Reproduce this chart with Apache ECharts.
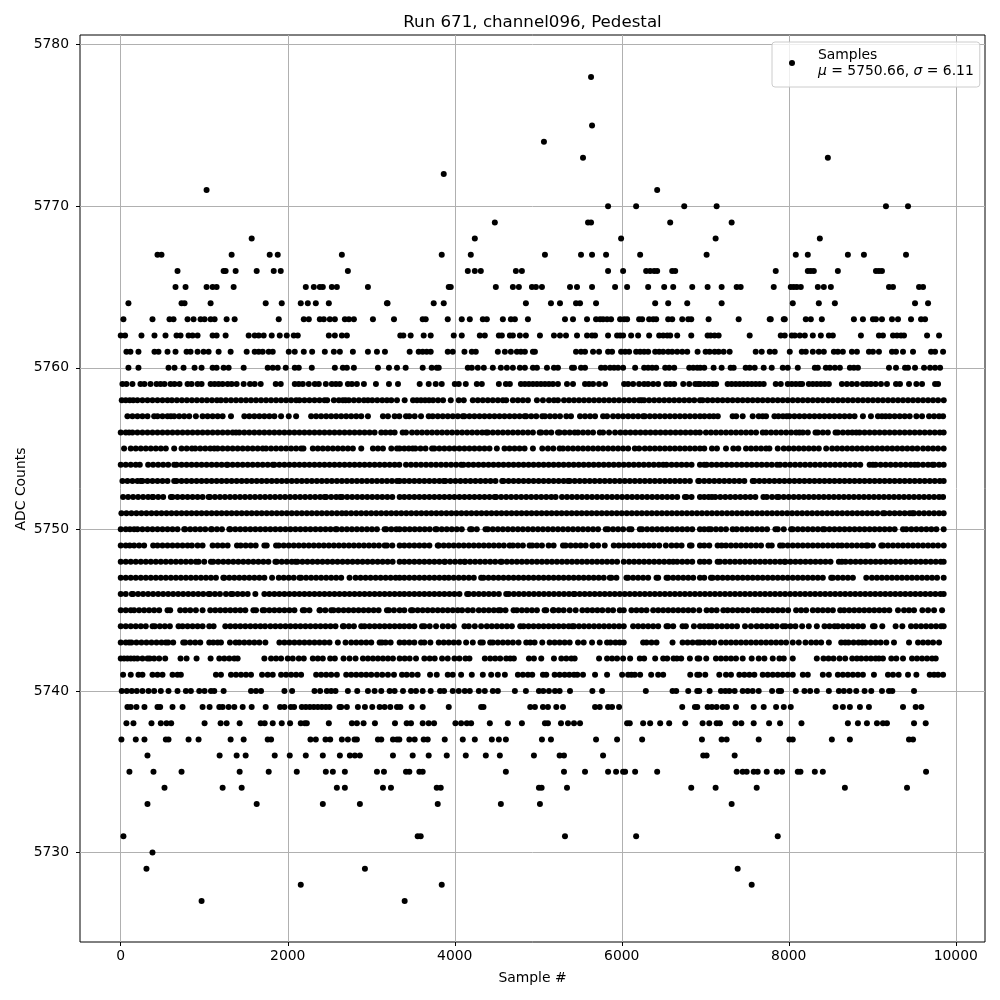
<!DOCTYPE html>
<html><head><meta charset="utf-8">
<script src="https://cdn.jsdelivr.net/npm/echarts@6/dist/echarts.min.js"></script>
<style>html,body{margin:0;padding:0;background:#fff}#c{width:1000px;height:1000px}</style></head>
<body><div id="c"></div>
<script>
const titleText = "Run 671, channel096, Pedestal";
const xName = "Sample #";
const yName = "ADC Counts";
const xTicks = [0,2000,4000,6000,8000,10000];
const yTicks = [5730,5740,5750,5760,5770,5780];
const s5778=[5632];
const s5775=[5644];
const s5774=[5068];
const s5773=[5536,8468];
const s5772=[3868];
const s5771=[1028,6424];
const s5770=[5836,6172,6748,7136,9164,9428];
const s5769=[4480,5596,5632,6580,7316];
const s5768=[1568,4240,5992,7124,8372];
const s5767=[440,488,1328,1784,1880,2648,3844,4192,5080,5512,5644,5812,6220,7016,8084,8228,8708,8900,9404];
const s5766=[680,1232,1256,1376,1628,1832,1916,2720,4156,4240,4312,4732,4804,5836,6016,6292,6340,6388,6424,6604,6640,7844,8228,8264,8300,8588,9044,9080,9116];
const s5765=[656,776,1028,1100,1148,1352,2216,2312,2384,2420,2528,2588,2960,3928,3952,4492,4696,4768,4924,4972,5044,5380,5464,5644,5920,6064,6316,6508,6616,6844,7028,7196,7376,7424,7820,8024,8060,8096,8144,8348,8420,8504,9200,9248,9560,9608];
const s5764=[92,728,764,1076,1736,1928,2156,2240,2336,2492,3188,3195,3748,3868,4852,5152,5260,5452,5500,5692,6400,6556,6784,7196,8048,8360,8552,9512,9668];
const s5763=[32,380,584,632,800,872,956,1004,1076,1124,1268,1364,1892,2192,2252,2384,2432,2504,2564,2684,2732,2792,3020,3272,3616,3652,3916,4084,4180,4336,4384,4576,4672,4720,4876,5320,5416,5584,5692,5740,5776,5824,5872,5980,6028,6064,6208,6244,6328,6376,6412,6556,6604,6724,6796,6832,7040,7400,7772,7784,7940,7952,8204,8264,8396,8780,8888,9008,9044,9116,9236,9308,9464,9584,9632];
const s5762=[0,52,248,404,536,668,716,812,860,920,1100,1148,1256,1532,1604,1652,1712,1808,1904,1988,2072,2120,2492,2564,2648,2708,3348,3384,3472,3628,3712,3988,4084,4300,4360,4528,4564,4660,4696,4780,4852,5020,5188,5260,5332,5464,5584,5644,5680,5836,5944,5980,6016,6112,6196,6328,6448,6496,6544,6580,6664,6832,7028,7064,7112,7160,7532,7904,7952,8036,8072,8132,8192,8288,8384,8480,8528,8864,9080,9128,9248,9296,9344,9380,9656,9800];
const s5761=[68,116,212,404,452,560,656,788,836,920,992,1052,1172,1316,1508,1604,1652,1700,1772,1820,2012,2084,2192,2292,2444,2552,2624,2780,2960,3068,3164,3460,3568,3616,3664,3712,3916,3976,4116,4204,4252,4516,4600,4672,4744,4792,4840,4936,4960,5452,5512,5560,5656,5728,5836,5884,5992,6040,6088,6172,6220,6268,6316,6400,6448,6496,6556,6604,6664,6724,6784,6908,7004,7052,7112,7160,7220,7292,7604,7676,7772,7832,8012,8156,8204,8288,8360,8420,8540,8588,8648,8756,8816,8960,9008,9080,9236,9284,9368,9488,9704,9752,9848];
const s5760=[92,212,572,644,752,884,968,1100,1148,1232,1292,1472,1760,1820,1880,1976,2084,2132,2288,2564,2660,2708,2792,3080,3212,3308,3412,3616,3724,3784,3808,4156,4204,4276,4348,4456,4552,4624,4696,4780,4840,4936,4984,5104,5188,5236,5404,5428,5512,5560,5752,5800,5860,5908,5956,6016,6160,6268,6316,6364,6412,6520,6568,6628,6808,6856,6904,6940,6988,7100,7196,7304,7340,7484,7532,7592,7700,7796,7928,7988,8108,8312,8348,8444,8492,8552,8612,8732,8780,8828,9200,9284,9392,9428,9512,9620,9692,9752,9812];
const s5759=[20,68,140,236,284,356,428,476,524,596,644,704,800,848,920,968,1076,1124,1172,1220,1280,1328,1388,1472,1548,1604,1676,1856,1916,2084,2132,2180,2252,2324,2372,2456,2528,2576,2624,2720,2768,2828,2912,3056,3212,3320,3580,3688,3772,3844,4000,4048,4132,4264,4324,4528,4612,4660,4792,4840,4888,4936,4984,5032,5080,5128,5176,5236,5344,5416,5560,5608,5656,5728,5800,6028,6076,6136,6208,6268,6316,6376,6436,6532,6580,6628,6736,6808,6880,6916,6940,6990,7040,7090,7130,7268,7316,7364,7412,7460,7508,7556,7604,7652,7700,7844,7904,7988,8036,8084,8132,8160,8240,8288,8336,8384,8432,8480,8636,8696,8756,8816,8888,8936,8984,9040,9104,9176,9284,9332,9440,9528,9596,9752,9788];
const s5758=[12,60,108,150,200,260,320,380,440,500,560,612,672,732,792,852,912,972,1032,1092,1152,1200,1260,1320,1380,1440,1500,1560,1620,1680,1740,1800,1860,1920,1980,2040,2100,2140,2200,2260,2320,2380,2440,2472,2552,2612,2660,2692,2732,2792,2852,2912,2960,3012,3072,3132,3188,3240,3308,3400,3500,3548,3596,3644,3692,3740,3800,3860,3952,4048,4108,4216,4276,4336,4396,4456,4516,4576,4616,4696,4756,4816,4876,4984,5056,5128,5188,5236,5308,5368,5428,5488,5548,5608,5668,5728,5788,5848,5908,5968,6028,6088,6148,6208,6236,6268,6328,6388,6448,6508,6568,6628,6688,6748,6808,6868,6936,6968,7028,7088,7148,7208,7268,7328,7388,7448,7508,7568,7628,7688,7748,7808,7868,7928,7988,8048,8108,8168,8228,8288,8348,8408,8468,8528,8588,8648,8708,8768,8828,8888,8948,9008,9068,9128,9188,9248,9308,9368,9428,9488,9548,9608,9668,9728,9788,9856];
const s5757=[80,140,200,260,320,400,440,500,560,600,640,700,760,820,900,980,1040,1100,1160,1220,1320,1480,1540,1600,1660,1720,1780,1840,1920,2012,2100,2280,2340,2400,2460,2520,2580,2640,2700,2760,2820,2880,2960,3140,3200,3280,3336,3416,3456,3520,3596,3688,3736,3796,3856,3916,3976,4036,4096,4116,4176,4236,4296,4356,4416,4476,4536,4596,4656,4716,4776,4836,4856,4916,4976,5048,5080,5140,5200,5260,5336,5392,5500,5560,5620,5680,5776,5824,5896,5956,6016,6076,6136,6196,6256,6276,6336,6396,6456,6516,6576,6636,6696,6756,6816,6876,6936,6990,7050,7100,7150,7328,7370,7448,7568,7640,7688,7728,7828,7876,7930,7976,8008,8068,8128,8188,8248,8308,8368,8428,8488,8548,8608,8668,8728,8788,8888,8984,9068,9116,9160,9208,9268,9328,9388,9448,9528,9596,9680,9740,9800,9848];
const s5756=[0,60,100,140,200,260,320,380,440,500,560,620,680,740,800,860,920,980,1040,1100,1160,1220,1280,1340,1380,1420,1480,1540,1600,1660,1720,1780,1840,1900,1960,2020,2080,2140,2200,2260,2320,2380,2440,2500,2560,2620,2680,2740,2800,2860,2920,2980,3040,3120,3172,3230,3280,3376,3416,3488,3548,3608,3668,3728,3788,3848,3908,3968,4028,4088,4148,4208,4268,4328,4376,4396,4456,4516,4576,4636,4696,4756,4816,4876,4936,5016,5036,5096,5156,5236,5256,5316,5376,5436,5476,5536,5596,5656,5736,5776,5848,5920,5984,6044,6104,6164,6224,6284,6344,6404,6464,6524,6584,6644,6704,6764,6824,6884,6936,7008,7068,7128,7188,7248,7308,7368,7428,7488,7548,7608,7688,7728,7788,7848,7908,7968,8028,8088,8128,8168,8228,8320,8348,8408,8468,8560,8588,8648,8708,8760,8808,8848,8908,8968,9028,9088,9148,9208,9268,9328,9388,9448,9508,9568,9628,9688,9748,9808,9855];
const s5755=[40,120,180,240,300,360,420,480,540,640,728,790,852,892,952,1012,1072,1120,1160,1220,1280,1340,1400,1460,1520,1580,1640,1700,1740,1800,1860,1920,1980,2040,2100,2160,2188,2300,2360,2420,2480,2540,2600,2660,2720,2780,2880,3020,3080,3140,3240,3308,3340,3396,3450,3496,3528,3590,3650,3728,3756,3816,3876,3936,3996,4056,4116,4176,4236,4296,4356,4416,4504,4596,4656,4716,4776,4836,4936,5048,5116,5180,5256,5296,5356,5416,5476,5536,5596,5656,5716,5776,5836,5896,5956,6016,6076,6156,6208,6276,6336,6396,6456,6516,6576,6636,6696,6756,6816,6876,6936,6988,7080,7140,7248,7336,7396,7488,7548,7608,7668,7728,7768,7868,7940,8000,8060,8120,8180,8240,8300,8360,8448,8520,8580,8640,8700,8760,8820,8880,8940,9000,9060,9120,9180,9240,9300,9360,9420,9480,9540,9608,9668,9728,9788,9855];
const s5754=[0,60,120,180,228,328,388,448,508,568,640,668,728,788,848,908,968,1028,1088,1148,1208,1268,1280,1340,1400,1460,1520,1580,1640,1700,1760,1820,1840,1900,1960,2020,2080,2140,2200,2260,2320,2380,2440,2500,2560,2620,2680,2740,2800,2860,2920,2980,3040,3100,3160,3220,3280,3336,3416,3476,3536,3596,3656,3716,3776,3836,3896,3956,4016,4076,4104,4164,4224,4284,4344,4404,4464,4524,4584,4644,4704,4764,4824,4884,4944,5004,5064,5124,5184,5244,5304,5364,5424,5484,5544,5604,5664,5724,5784,5844,5904,5964,6024,6084,6144,6204,6264,6324,6384,6444,6496,6536,6596,6656,6716,6776,6836,6936,6988,7016,7076,7136,7196,7256,7316,7376,7436,7496,7556,7616,7676,7736,7796,7860,7896,7956,8016,8076,8136,8196,8256,8316,8376,8436,8496,8556,8616,8676,8736,8796,8856,8968,9008,9040,9100,9160,9220,9280,9340,9400,9460,9508,9548,9608,9668,9720,9740,9800,9855];
const s5753=[20,80,140,200,240,260,320,380,440,500,560,640,668,728,788,848,908,968,1028,1088,1148,1208,1268,1328,1388,1448,1508,1568,1628,1688,1748,1808,1868,1928,1988,2048,2108,2168,2228,2288,2348,2408,2468,2528,2588,2648,2708,2768,2828,2888,2948,3008,3068,3128,3188,3248,3308,3340,3396,3456,3516,3576,3636,3696,3756,3816,3868,3888,3948,4008,4068,4128,4188,4248,4308,4368,4428,4488,4568,4584,4644,4704,4764,4824,4884,4944,5004,5064,5124,5184,5244,5304,5356,5376,5436,5496,5556,5616,5676,5736,5796,5856,5916,5976,6036,6096,6156,6216,6276,6336,6396,6456,6516,6576,6636,6696,6756,6816,6916,6928,6988,7048,7108,7168,7228,7288,7348,7408,7468,7568,7588,7648,7708,7768,7828,7888,7948,8008,8068,8128,8188,8248,8308,8368,8428,8488,8548,8608,8668,8728,8788,8848,8908,8968,9028,9088,9148,9208,9268,9328,9388,9448,9508,9568,9628,9688,9748,9808,9855];
const s5752=[28,88,148,208,268,328,380,388,448,508,600,620,680,740,800,860,920,980,1052,1068,1128,1188,1248,1308,1368,1428,1488,1548,1608,1668,1728,1788,1848,1908,1968,2028,2088,2148,2208,2268,2328,2388,2440,2460,2520,2580,2628,2652,2712,2772,2832,2892,2952,3012,3072,3132,3192,3252,3340,3396,3456,3516,3576,3636,3696,3756,3816,3876,3936,3996,4056,4116,4176,4236,4296,4356,4416,4476,4496,4556,4616,4676,4736,4796,4856,4916,4976,5036,5096,5156,5208,5284,5344,5404,5464,5524,5584,5644,5704,5764,5824,5884,5944,6004,6064,6124,6184,6244,6304,6364,6424,6484,6544,6604,6664,6756,6776,6836,6936,6988,7040,7080,7120,7180,7240,7300,7360,7420,7480,7540,7600,7696,7736,7800,7860,7880,7940,8000,8060,8120,8180,8240,8300,8360,8420,8480,8540,8600,8660,8720,8780,8840,8900,8960,9020,9080,9140,9200,9260,9320,9380,9440,9500,9560,9620,9680,9740,9800,9848];
const s5751=[8,68,128,188,248,308,368,428,488,548,608,668,728,788,848,908,968,1028,1088,1148,1208,1268,1328,1388,1448,1508,1568,1628,1688,1748,1808,1868,1928,1988,2048,2108,2168,2228,2288,2348,2408,2468,2528,2588,2648,2700,2760,2820,2880,2940,3000,3060,3120,3180,3240,3300,3360,3420,3480,3540,3600,3660,3720,3780,3840,3900,3960,4020,4080,4140,4200,4260,4320,4380,4440,4500,4560,4620,4680,4740,4800,4860,4920,4980,5040,5100,5160,5220,5280,5340,5400,5460,5520,5580,5640,5700,5760,5820,5880,5940,6000,6060,6120,6180,6240,6300,6360,6420,6480,6540,6600,6660,6720,6780,6840,6900,6960,7020,7080,7140,7200,7260,7320,7380,7440,7500,7560,7620,7680,7740,7800,7860,7920,7980,8040,8100,8160,8220,8280,8340,8400,8460,8520,8580,8640,8700,8760,8820,8880,8940,9000,9060,9128,9148,9208,9268,9328,9388,9448,9480,9500,9560,9620,9680,9740,9800,9855];
const s5750=[0,60,110,160,200,260,320,380,440,500,560,620,680,760,772,832,892,952,1012,1080,1092,1152,1212,1300,1312,1372,1432,1492,1552,1612,1672,1732,1792,1852,1912,1972,2032,2092,2152,2212,2272,2332,2392,2452,2512,2572,2588,2648,2708,2768,2828,2888,2948,3008,3068,3160,3180,3240,3300,3340,3400,3460,3520,3580,3640,3700,3768,3784,3844,3904,3964,4024,4084,4184,4204,4264,4368,4396,4456,4516,4576,4636,4696,4756,4816,4876,4936,4996,5056,5116,5176,5236,5296,5356,5416,5476,5536,5596,5656,5716,5808,5836,5896,5956,6016,6088,6116,6216,6244,6304,6364,6424,6484,6544,6604,6664,6724,6784,6844,6936,6988,7040,7068,7128,7188,7248,7328,7376,7440,7500,7560,7620,7680,7740,7840,7868,7940,8028,8048,8108,8168,8228,8288,8348,8408,8428,8488,8548,8608,8668,8728,8788,8848,8908,8968,9028,9088,9148,9208,9268,9368,9408,9468,9528,9588,9648,9708,9768,9855];
const s5749=[0,60,108,160,220,280,388,440,500,560,620,680,740,800,852,920,980,1100,1160,1220,1280,1392,1436,1496,1556,1616,1720,1748,1860,1892,1952,2012,2072,2132,2192,2252,2312,2372,2432,2492,2552,2612,2672,2732,2792,2852,2912,2972,3032,3092,3160,3188,3252,3340,3396,3456,3516,3576,3636,3696,3796,3808,3868,3928,3988,4048,4108,4168,4228,4288,4348,4408,4468,4528,4588,4656,4696,4756,4816,4896,4928,4984,5044,5124,5184,5296,5328,5388,5448,5508,5568,5648,5656,5716,5796,5904,5964,6024,6084,6144,6204,6264,6324,6384,6448,6528,6596,6656,6716,6816,6836,6936,6988,7048,7148,7196,7248,7308,7368,7428,7488,7548,7608,7668,7756,7796,7896,7928,7988,8048,8108,8168,8228,8288,8348,8408,8468,8528,8588,8636,8696,8756,8816,8876,8928,8948,9008,9108,9128,9188,9248,9308,9368,9428,9488,9548,9608,9668,9728,9788,9856];
const s5748=[0,60,120,180,240,300,360,420,480,540,600,660,720,780,840,900,932,1000,1080,1108,1168,1228,1288,1348,1408,1468,1528,1588,1648,1708,1768,1852,1868,1928,1988,2048,2092,2116,2176,2236,2296,2356,2416,2476,2536,2596,2656,2716,2776,2836,2896,2956,3016,3076,3136,3196,3256,3340,3396,3456,3516,3576,3636,3696,3756,3816,3876,3884,3944,4004,4064,4116,4124,4184,4244,4304,4364,4424,4484,4548,4564,4624,4684,4744,4804,4864,4924,4984,5044,5104,5164,5224,5284,5344,5404,5464,5524,5584,5644,5704,5764,5824,5884,5944,6024,6088,6148,6208,6268,6328,6388,6448,6508,6568,6616,6664,6724,6784,6844,6936,6988,7048,7148,7176,7236,7296,7356,7416,7476,7536,7596,7656,7716,7776,7836,7896,7948,7960,8020,8080,8140,8200,8260,8320,8380,8440,8500,8600,8636,8680,8740,8800,8860,8920,8980,9040,9100,9160,9220,9280,9340,9400,9460,9520,9580,9640,9700,9760,9820,9855];
const s5747=[0,60,120,180,240,300,360,420,480,540,600,660,720,780,840,900,960,1020,1080,1140,1228,1240,1300,1360,1420,1480,1540,1600,1660,1720,1812,1892,1952,2012,2072,2140,2160,2220,2280,2340,2400,2460,2520,2580,2640,2740,2812,2872,2932,2992,3052,3112,3172,3232,3292,3340,3396,3456,3516,3576,3636,3696,3756,3816,3876,3928,3988,4048,4108,4168,4228,4316,4344,4404,4464,4524,4584,4644,4704,4764,4824,4884,4944,5004,5064,5124,5184,5244,5304,5364,5424,5484,5544,5604,5664,5724,5784,5856,5876,5936,6056,6076,6136,6196,6256,6316,6416,6436,6536,6556,6616,6676,6736,6796,6856,6936,6988,7068,7088,7148,7208,7268,7328,7388,7448,7508,7568,7628,7688,7748,7808,7868,7928,7988,8048,8108,8168,8228,8288,8348,8408,8508,8528,8588,8648,8708,8768,8928,8996,9056,9116,9176,9236,9296,9356,9416,9476,9536,9596,9656,9716,9776,9855];
const s5746=[0,60,132,148,208,268,328,388,448,508,568,628,688,748,808,868,928,988,1052,1068,1128,1188,1260,1320,1340,1400,1460,1520,1612,1720,1780,1840,1900,1960,2020,2080,2140,2200,2260,2320,2380,2440,2500,2560,2620,2680,2740,2800,2860,2920,2980,3040,3100,3160,3220,3280,3340,3396,3456,3516,3576,3636,3696,3756,3816,3876,3936,3996,4056,4148,4168,4228,4288,4348,4408,4468,4528,4616,4648,4708,4768,4828,4888,4948,5008,5068,5128,5188,5248,5308,5368,5424,5436,5496,5556,5616,5676,5736,5796,5856,5916,5976,6036,6096,6156,6216,6276,6336,6396,6456,6516,6576,6636,6696,6756,6816,6876,6936,6996,7056,7116,7176,7236,7296,7356,7416,7476,7536,7596,7656,7716,7776,7836,7896,7956,8016,8076,8136,8196,8256,8316,8376,8436,8496,8556,8616,8676,8736,8796,8856,8916,8976,9036,9096,9156,9216,9276,9336,9396,9456,9516,9576,9636,9696,9756,9816,9855];
const s5745=[0,60,120,160,220,280,340,400,460,560,592,712,772,832,900,980,1072,1132,1192,1252,1312,1372,1432,1492,1588,1620,1700,1720,1780,1840,1900,1960,2020,2080,2180,2200,2260,2380,2388,2450,2520,2548,2608,2668,2728,2788,2848,2908,2968,3028,3088,3188,3212,3272,3340,3396,3476,3496,3556,3616,3676,3736,3796,3856,3916,3976,4036,4088,4156,4216,4288,4348,4408,4468,4524,4548,4608,4704,4744,4804,4864,4924,4984,5076,5096,5176,5184,5244,5304,5376,5448,5528,5588,5648,5708,5768,5836,5896,5976,6024,6116,6176,6236,6296,6376,6436,6496,6556,6616,6676,6736,6796,6856,6928,7016,7076,7136,7216,7268,7328,7388,7448,7508,7576,7628,7688,7748,7808,7868,7928,7992,8088,8148,8208,8288,8348,8408,8468,8528,8616,8664,8724,8784,8844,8904,8964,9024,9084,9144,9204,9308,9380,9440,9500,9600,9668,9740,9836];
const s5744=[0,60,120,180,240,300,380,408,468,528,588,692,740,800,860,920,980,1060,1112,1252,1312,1372,1432,1492,1552,1612,1672,1728,1792,1852,1912,1972,2032,2092,2152,2212,2272,2332,2392,2452,2512,2572,2660,2672,2732,2792,2880,2920,2980,3040,3100,3160,3220,3280,3340,3396,3456,3516,3608,3636,3700,3776,3856,3920,3988,4116,4168,4240,4316,4384,4444,4504,4564,4624,4684,4784,4824,4884,4944,5004,5064,5124,5184,5244,5304,5364,5408,5428,5488,5548,5608,5668,5728,5788,5848,5908,5968,6024,6136,6196,6256,6316,6376,6436,6536,6556,6616,6728,6768,6864,6936,6988,7040,7080,7140,7200,7260,7320,7380,7476,7548,7616,7676,7736,7796,7856,7928,7960,8020,8080,8160,8240,8336,8428,8488,8548,8588,8648,8708,8768,8828,8888,9008,9028,9120,9280,9360,9464,9524,9584,9644,9704,9764,9824,9855];
const s5743=[0,60,100,128,188,248,308,368,428,488,540,568,628,748,772,832,892,952,1060,1108,1160,1200,1308,1376,1420,1480,1540,1600,1660,1732,1900,1960,2020,2080,2140,2200,2260,2320,2380,2440,2500,2600,2692,2760,2820,2880,2940,3000,3100,3128,3172,3232,3340,3396,3456,3516,3596,3636,3708,3808,3868,3928,3988,4048,4136,4216,4308,4336,4424,4456,4516,4576,4636,4696,4764,4856,4904,4956,5048,5136,5196,5256,5316,5376,5476,5544,5644,5736,5824,5864,5924,5976,6024,6256,6296,6356,6416,6608,6728,6788,6848,6908,6936,6988,7048,7108,7188,7248,7308,7368,7428,7488,7548,7608,7668,7728,7788,7848,7908,7968,8048,8120,8200,8268,8328,8388,8480,8628,8676,8716,8776,8836,8880,8920,8980,9040,9100,9168,9260,9440,9548,9608,9668,9728,9800];
const s5742=[0,40,80,120,160,200,260,320,348,400,460,532,716,788,908,1076,1180,1240,1300,1360,1400,1720,1800,1860,1920,2000,2060,2132,2192,2300,2360,2420,2508,2564,2668,2740,2812,2900,2960,3020,3080,3140,3200,3260,3340,3400,3460,3536,3636,3700,3760,3848,3916,3996,4056,4128,4176,4360,4424,4484,4544,4616,4664,4708,4888,4948,5036,5188,5276,5336,5396,5436,5728,5824,5884,5944,6016,6100,6216,6268,6400,6496,6544,6620,6660,6712,6816,6908,6928,7012,7128,7188,7248,7308,7368,7448,7556,7640,7708,7808,7888,7940,8048,8336,8416,8476,8536,8608,8676,8760,8816,8868,8928,8984,9040,9080,9128,9228,9288,9368,9476,9536,9596,9656,9716,9760];
const s5741=[28,120,212,260,380,440,500,620,680,720,1140,1200,1320,1380,1440,1500,1560,1692,1760,1820,1920,1980,2040,2100,2160,2340,2400,2460,2520,2588,2700,2760,2820,2880,2940,3000,3068,3132,3200,3272,3368,3424,3488,3556,3704,3784,3916,3976,4076,4204,4336,4436,4516,4600,4756,4816,4876,4928,5056,5096,5196,5256,5316,5372,5428,5468,5536,5680,5824,6004,6076,6116,6156,6220,6352,6436,6496,6820,6904,6928,7000,7168,7248,7308,7408,7468,7528,7588,7688,7748,7808,7868,7928,7988,8048,8168,8228,8408,8480,8588,8648,8708,8768,8828,8888,9020,9188,9248,9316,9428,9528,9688,9740,9788,9848];
const s5740=[12,72,132,192,260,332,400,480,572,680,780,840,940,1004,1080,1120,1232,1560,1620,1680,1960,2052,2320,2388,2468,2520,2572,2720,2832,2960,3040,3120,3220,3280,3380,3476,3536,3616,3712,3824,3872,3976,4048,4120,4180,4288,4360,4456,4516,4720,4852,5008,5060,5128,5200,5256,5380,5648,5764,6288,6608,6652,6796,6904,6928,7052,7188,7240,7288,7352,7448,7508,7568,7640,7800,7880,7908,8084,8188,8256,8336,8480,8600,8660,8728,8808,8908,8988,9116,9200,9240,9500];
const s5739=[80,120,188,284,440,472,620,740,980,1064,1180,1220,1292,1360,1460,1568,1736,1908,1960,2036,2076,2168,2216,2264,2312,2360,2408,2456,2500,2620,2640,2708,2840,2924,3012,3100,3160,3228,3308,3348,3484,3616,3928,4316,4344,4904,4960,5056,5116,5216,5296,5680,5736,5836,5884,5968,6724,6876,6904,7028,7080,7136,7208,7260,7368,7580,7700,7848,7940,8024,8560,8648,8732,8852,8960,9368,9520,9588];
const s5738=[68,152,368,480,548,604,1004,1196,1268,1424,1676,1724,1820,1928,2028,2156,2204,2228,2492,2768,2828,2908,3044,3284,3424,3476,3616,3688,3752,4008,4076,4144,4196,4420,4636,4804,5080,5116,5272,5356,5428,5500,6064,6096,6256,6340,6460,6568,6760,6968,7048,7136,7176,7360,7432,7580,7764,7896,8152,8708,8828,8936,9056,9128,9176,9500,9640];
const s5737=[8,180,284,540,572,812,932,1316,1472,1760,1800,2272,2336,2452,2508,2648,2720,2800,2828,3080,3120,3260,3308,3336,3456,3520,3628,3676,3880,4096,4240,4444,4528,4612,5044,5152,5692,5944,6244,6960,7196,7256,7640,8008,8048,8516,8732,9440,9488];
const s5736=[320,1184,1388,1496,1844,2024,2216,2420,2624,2744,2804,2864,3260,3496,3688,3904,4132,4372,4540,4948,5256,5308,5776,6976,7016,7352];
const s5735=[104,392,728,1424,1772,2108,2456,2540,2684,3068,3152,3416,3456,3576,3616,4612,5308,5560,5836,5932,6016,6040,6160,6424,7376,7448,7496,7580,7628,7736,7856,7920,8108,8140,8312,8408,9644];
const s5734=[524,1220,1448,2588,2684,3140,3236,3784,3832,5008,5040,5344,6832,7124,7616,8672,9416];
const s5733=[320,1628,2420,2864,3796,4552,5020,7316];
const s5731=[32,3556,3592,5320,6172,7868];
const s5730=[380];
const s5729=[308,2924,7388];
const s5728=[2156,3844,7556];
const s5727=[968,3400];
const rows=[[5778,s5778],[5775,s5775],[5774,s5774],[5773,s5773],[5772,s5772],[5771,s5771],[5770,s5770],[5769,s5769],[5768,s5768],[5767,s5767],[5766,s5766],[5765,s5765],[5764,s5764],[5763,s5763],[5762,s5762],[5761,s5761],[5760,s5760],[5759,s5759],[5758,s5758],[5757,s5757],[5756,s5756],[5755,s5755],[5754,s5754],[5753,s5753],[5752,s5752],[5751,s5751],[5750,s5750],[5749,s5749],[5748,s5748],[5747,s5747],[5746,s5746],[5745,s5745],[5744,s5744],[5743,s5743],[5742,s5742],[5741,s5741],[5740,s5740],[5739,s5739],[5738,s5738],[5737,s5737],[5736,s5736],[5735,s5735],[5734,s5734],[5733,s5733],[5731,s5731],[5730,s5730],[5729,s5729],[5728,s5728],[5727,s5727]];
const points=[];rows.forEach(function(r){r[1].forEach(function(x){points.push([x,r[0]]);});});
const F='"DejaVu Sans"';
const plain=function(v){return String(v);};
const chart=echarts.init(document.getElementById('c'),null,{renderer:'canvas'});
chart.setOption({
  animation:false,backgroundColor:'#fff',
  title:{text:titleText,left:527.5,top:9,textAlign:'center',textStyle:{fontFamily:F,fontSize:16.67,fontWeight:'normal',color:'#000'}},
  grid:{left:80,right:15,top:35,bottom:58,show:true,borderColor:'#000',borderWidth:1,backgroundColor:'transparent'},
  graphic:[{type:'text',x:21,y:489,rotation:Math.PI/2,silent:true,style:{text:yName,fontFamily:F,fontSize:13.9,fill:'#000',align:'center',verticalAlign:'middle'}}],
  xAxis:{type:'value',min:-488,max:10350,name:xName,nameLocation:'middle',nameGap:29,nameTextStyle:{fontFamily:F,fontSize:13.9,color:'#000'},
    axisLine:{show:false,onZero:false},
    axisTick:{show:true,length:4,lineStyle:{color:'#000',width:1},customValues:xTicks},
    axisLabel:{fontFamily:F,fontSize:13.9,color:'#000',margin:7,customValues:xTicks,formatter:plain,showMinLabel:true,showMaxLabel:true},
    splitLine:{show:true,lineStyle:{color:'#b0b0b0',width:1}}},
  yAxis:{type:'value',min:5724.46,max:5780.6,
    axisLine:{show:false,onZero:false},
    axisTick:{show:true,length:4,lineStyle:{color:'#000',width:1},customValues:yTicks},
    axisLabel:{fontFamily:F,fontSize:13.9,color:'#000',margin:11,customValues:yTicks,formatter:plain},
    splitLine:{show:true,lineStyle:{color:'#b0b0b0',width:1}}},
  legend:{show:true,left:772,top:42,orient:'vertical',padding:[5,6,8,17],itemWidth:6,itemHeight:6,backgroundColor:'rgba(255,255,255,0.8)',borderColor:'#ccc',borderWidth:1,borderRadius:3,
    data:[{name:'Samples',icon:'circle'}],
    formatter:function(){return 'Samples\n{i|μ} = 5750.66, {i|σ} = 6.11';},
    textStyle:{fontFamily:F,fontSize:13.9,lineHeight:16,color:'#000',padding:[0,0,0,18],rich:{i:{fontFamily:F,fontStyle:'italic',fontSize:13.9,lineHeight:16,color:'#000'}}}},
  series:[{name:'Samples',type:'scatter',data:points,symbol:'circle',symbolSize:6,itemStyle:{color:'#000',opacity:1},silent:true,z:3}]
});
</script></body></html>
